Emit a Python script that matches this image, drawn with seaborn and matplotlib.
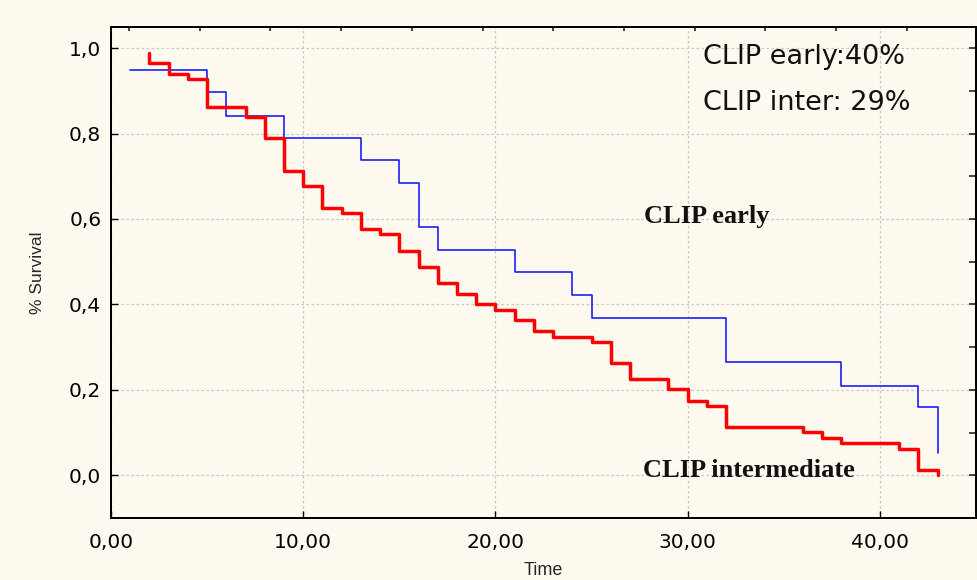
import numpy as np
import pandas as pd
import matplotlib
matplotlib.use("Agg")
import matplotlib.pyplot as plt
from matplotlib.ticker import FuncFormatter
import seaborn as sns

# ---- data ----
early_time = [1, 5, 6, 9, 13, 15, 16, 17, 21, 24, 25, 32, 38, 42, 43]
early_surv = [0.948, 0.896, 0.842, 0.790, 0.738, 0.684, 0.580, 0.527,
              0.475, 0.423, 0.368, 0.264, 0.210, 0.159, 0.052]

inter_time = [2, 2, 3, 4, 5, 7, 8, 9, 10, 11, 12, 13, 14, 15, 16, 17, 18,
              19, 20, 21, 22, 23, 25, 26, 27, 29, 30, 31, 32, 36, 37, 38,
              41, 42, 43]
inter_surv = [0.988, 0.964, 0.940, 0.927, 0.863, 0.838, 0.789, 0.712,
              0.677, 0.626, 0.613, 0.576, 0.564, 0.525, 0.488, 0.449,
              0.424, 0.400, 0.388, 0.363, 0.338, 0.324, 0.312, 0.262,
              0.226, 0.201, 0.175, 0.163, 0.112, 0.101, 0.087, 0.075,
              0.062, 0.012, 0.000]

x_ticks = [0, 10, 20, 30, 40]
y_ticks = [0.0, 0.2, 0.4, 0.6, 0.8, 1.0]

summary_lines = ["CLIP early:40%", "CLIP inter: 29%"]
label_early = "CLIP early"
label_inter = "CLIP intermediate"

df_early = pd.DataFrame({"Time": early_time, "Survival": early_surv})
df_inter = pd.DataFrame({"Time": inter_time, "Survival": inter_surv})

# ---- styling ----
sns.set_style("white")
bg = "#FFFAF0"
plt.rcParams["font.family"] = ["Liberation Sans", "DejaVu Sans"]

fig = plt.figure(figsize=(9.77, 5.8), dpi=100, facecolor=bg)
ax = fig.add_axes([111/977, 62/580, 865/977, 491.3/580])
ax.set_facecolor(bg)

sns.lineplot(data=df_early, x="Time", y="Survival", ax=ax, color="#1F1FFF",
             linewidth=1.2, estimator=None, sort=False,
             drawstyle="steps-post", legend=False)
sns.lineplot(data=df_inter, x="Time", y="Survival", ax=ax, color="#FF0000",
             linewidth=2.5, estimator=None, sort=False,
             drawstyle="steps-post", legend=False)

ax.set_xlim(0, 45)
ax.set_ylim(-0.1, 1.05)
ax.set_xticks(x_ticks)
ax.set_yticks(y_ticks)
ax.xaxis.set_major_formatter(FuncFormatter(lambda v, p: f"{v:.2f}".replace(".", ",")))
ax.yaxis.set_major_formatter(FuncFormatter(lambda v, p: f"{v:.1f}".replace(".", ",")))
ax.tick_params(axis="both", direction="in", length=5, width=1, colors="black",
               labelsize=14.5, pad=11)
ax.tick_params(axis="y", pad=7)
for lab in ax.get_xticklabels() + ax.get_yticklabels():
    lab.set_family("DejaVu Sans")
ax.grid(True, color="#C8C8C8", linestyle=(0, (2, 2)), linewidth=0.9)
ax.set_axisbelow(True)

for s in ax.spines.values():
    s.set_color("black")
    s.set_linewidth(1.4)

ax.set_xlabel("Time", fontsize=13, labelpad=7)
ax.set_ylabel("% Survival", fontsize=12.5, labelpad=17)

# right-side ticks
axr = ax.twinx()
axr.set_ylim(ax.get_ylim())
axr.set_yticks(np.arange(0, 1.01, 0.1))
axr.tick_params(axis="y", direction="in", length=5, width=1.2, labelright=False)
axr.grid(False)
# top ticks
axt = ax.twiny()
axt.set_xlim(-18/70.7, 865/70.7 - 18/70.7)
axt.set_xticks(np.arange(0, 12, 1))
axt.tick_params(axis="x", direction="in", length=3, width=1.2, labeltop=False)
axt.grid(False)
for a in (axr, axt):
    for s in a.spines.values():
        s.set_color("black")
        s.set_linewidth(1.4)

# annotations
ax.text(30.8, 0.979, summary_lines[0], fontsize=19.5, family="DejaVu Sans",
        ha="left", va="center", color="#111111")
ax.text(30.8, 0.871, summary_lines[1], fontsize=19.5, family="DejaVu Sans",
        ha="left", va="center", color="#111111")
ax.text(31.0, 0.605, label_early, fontsize=19, family="Liberation Serif",
        fontweight="bold", ha="center", va="center", color="#111111")
ax.text(33.2, 0.012, label_inter, fontsize=19, family="Liberation Serif",
        fontweight="bold", ha="center", va="center", color="#111111")

fig.savefig("out.png", dpi=100, facecolor=bg)
